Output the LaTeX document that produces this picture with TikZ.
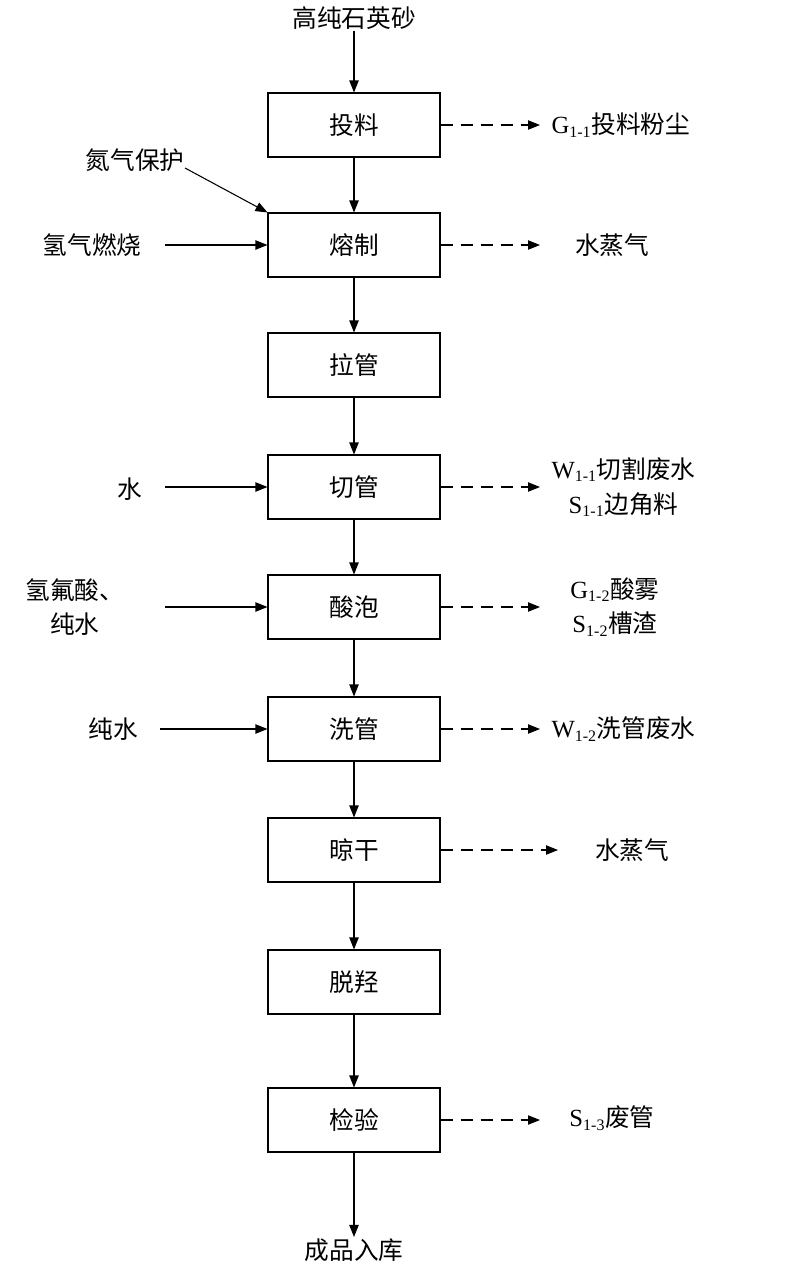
\documentclass[tikz,border=0pt]{standalone}
\usepackage{fontspec}
\setmainfont{Liberation Serif}
\newfontfamily\cjk{Noto Sans CJK SC}
\usetikzlibrary{arrows.meta}
\newcommand{\mycode}[2]{{\rmfamily #1\textsubscript{\fontsize{12}{12}\selectfont #2}}}
\begin{document}
\begin{tikzpicture}[x=0.75pt,y=-0.75pt,
  box/.style={draw,thick,minimum width=129pt,minimum height=48pt,font=\fontsize{18.5}{20}\selectfont\cjk},
  lbl/.style={font=\fontsize{18.5}{26}\selectfont\cjk,align=center,inner sep=1pt},
  arr/.style={thick,-{Triangle[length=9pt,width=7pt]}},
  darr/.style={thick,dashed,dash pattern=on 9pt off 6pt,-{Triangle[length=9pt,width=7pt]}}]
\useasboundingbox (0,0) rectangle (800,1272);
\node[lbl] (top) at (354,18) {高纯石英砂};
\node[box] (b1) at (354,125) {投料};
\node[box] (b2) at (354,245) {熔制};
\node[box] (b3) at (354,365) {拉管};
\node[box] (b4) at (354,487) {切管};
\node[box] (b5) at (354,607) {酸泡};
\node[box] (b6) at (354,729) {洗管};
\node[box] (b7) at (354,850) {晾干};
\node[box] (b8) at (354,982) {脱羟};
\node[box] (b9) at (354,1120) {检验};
\node[lbl] (bot) at (354,1250) {成品入库};
\draw[arr] (top) -- (b1);
\draw[arr] (b1) -- (b2);
\draw[arr] (b2) -- (b3);
\draw[arr] (b3) -- (b4);
\draw[arr] (b4) -- (b5);
\draw[arr] (b5) -- (b6);
\draw[arr] (b6) -- (b7);
\draw[arr] (b7) -- (b8);
\draw[arr] (b8) -- (b9);
\draw[arr] (b9) -- (bot);
% inputs
\node[lbl] (i1) at (135,160) {氮气保护};
\coordinate (i1s) at (185,168);
\draw[arr] (i1s) -- (b2.north west);
\node[lbl] (i2) at (92,245) {氢气燃烧};
\coordinate (i2s) at (165,245);
\draw[arr] (i2s) -- (b2.west);
\node[lbl] (i3) at (130,489) {水};
\coordinate (i3s) at (165,487);
\draw[arr] (i3s) -- (b4.west);
\node[lbl] (i4) at (75,607) {氢氟酸、\\纯水};
\coordinate (i4s) at (165,607);
\draw[arr] (i4s) -- (b5.west);
\node[lbl] (i5) at (113,729) {纯水};
\coordinate (i5s) at (160,729);
\draw[arr] (i5s) -- (b6.west);
% outputs
\coordinate (o1) at (540,125);
\coordinate (o2) at (540,245);
\coordinate (o4) at (540,487);
\coordinate (o5) at (540,607);
\coordinate (o6) at (540,729);
\coordinate (o7) at (558,850);
\coordinate (o9) at (540,1120);
\draw[darr] (b1.east) -- (o1);
\draw[darr] (b2.east) -- (o2);
\draw[darr] (b4.east) -- (o4);
\draw[darr] (b5.east) -- (o5);
\draw[darr] (b6.east) -- (o6);
\draw[darr] (b7.east) -- (o7);
\draw[darr] (b9.east) -- (o9);
\node[lbl,anchor=west] (t1) at (550,125) {\mycode{G}{1-1}投料粉尘};
\node[lbl] (t2) at (612,245) {水蒸气};
\node[lbl,anchor=west] (t4) at (550,487) {\mycode{W}{1-1}切割废水\\\mycode{S}{1-1}边角料};
\node[lbl] (t5) at (615,607) {\mycode{G}{1-2}酸雾\\\mycode{S}{1-2}槽渣};
\node[lbl,anchor=west] (t6) at (550,729) {\mycode{W}{1-2}洗管废水};
\node[lbl] (t7) at (632,850) {水蒸气};
\node[lbl] (t9) at (612,1118) {\mycode{S}{1-3}废管};
\end{tikzpicture}
\end{document}
